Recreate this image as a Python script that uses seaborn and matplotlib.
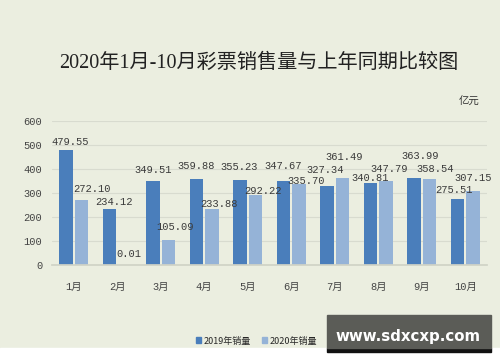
import matplotlib
matplotlib.use('Agg')
import matplotlib.pyplot as plt
import seaborn as sns
import pandas as pd
from matplotlib.patches import Rectangle

months = ['1月', '2月', '3月', '4月', '5月', '6月', '7月', '8月', '9月', '10月']
sales_2019 = [479.55, 234.12, 349.51, 359.88, 355.23, 347.67, 327.34, 340.81, 363.99, 275.51]
sales_2020 = [272.10, 0.01, 105.09, 233.88, 292.22, 335.70, 361.49, 347.79, 358.54, 307.15]
series = ['2019年销量', '2020年销量']

# hand-placed label offsets (pixels, dx / height above bar top), like the original
label_off = [
    [(4, 8), (5, 7), (0, 11), (0, 13), (-1, 13), (0, 15), (-2, 16), (0, 5), (6, 22), (-3, 9)],
    [(10, 11), (4, 11), (6, 13), (7, 5), (7, 4), (7, 3), (2, 21), (3, 12), (6, 10), (0, 13)],
]

df = pd.DataFrame({
    'month': months * 2,
    'value': sales_2019 + sales_2020,
    'series': [series[0]] * len(months) + [series[1]] * len(months),
})

bg = '#ebeee0'
sns.set_theme(style='white')
plt.rcParams['font.family'] = ['Liberation Mono', 'Noto Sans CJK SC', 'DejaVu Sans']

fig = plt.figure(figsize=(5, 3.62), dpi=100, facecolor=bg)
ax = fig.add_axes([0.104, 0.268, 0.87, 0.398])
ax.set_facecolor(bg)

sns.barplot(data=df, x='month', y='value', hue='series', order=months, hue_order=series,
            palette=['#4a7ebb', '#95b3d7'], width=0.72, gap=0.12, saturation=1,
            linewidth=0, legend=False, ax=ax)

for cont, offs in zip(ax.containers, label_off):
    for bar, (dx, dy) in zip(cont, offs):
        ax.annotate(f'{bar.get_height():.2f}', (bar.get_x() + bar.get_width() / 2, bar.get_height()),
                    xytext=(dx, dy), textcoords='offset pixels', ha='center', va='center',
                    fontsize=7.5, color='#3a3a3a')

ax.set_ylim(0, 600)
ax.set_yticks(range(0, 601, 100))
ax.yaxis.grid(True, color='#d8dbcf', linewidth=0.8)
ax.set_axisbelow(True)
for s in ['top', 'right', 'left']:
    ax.spines[s].set_visible(False)
ax.spines['bottom'].set_color('#d0d3c6')
ax.set_xlabel('')
ax.set_ylabel('')
ax.tick_params(axis='both', length=0, labelsize=7.5, colors='#444444')
ax.tick_params(axis='x', pad=12)
ax.tick_params(axis='y', pad=7)

fig.text(0.518, 0.826, '2020年1月-10月彩票销售量与上年同期比较图', ha='center', va='center',
         fontsize=14.5, color='#222222', family=['Liberation Serif', 'Noto Sans CJK SC'])
fig.text(0.938, 0.718, '亿元', ha='center', va='center', fontsize=7.5, color='#333333',
         family=['Noto Sans CJK SC'])

# legend
handles = [Rectangle((0, 0), 1, 1, color=c) for c in ['#4a7ebb', '#95b3d7']]
fig.legend(handles, series, loc='center', bbox_to_anchor=(0.513, 0.058), ncol=2, frameon=False,
           handlelength=0.6, handleheight=0.6, handletextpad=0.3, columnspacing=1.2,
           prop={'family': ['Noto Sans CJK SC', 'DejaVu Sans'], 'size': 6.5})

# white strip at bottom and watermark box
fig.patches.append(Rectangle((0, 0), 1, 14 / 362, transform=fig.transFigure, color='white', zorder=0))
fig.patches.append(Rectangle((327 / 500, 10 / 362), 164 / 500, 4 / 362, transform=fig.transFigure,
                             color='#111111', zorder=5))
fig.patches.append(Rectangle((327 / 500, 14 / 362), 164 / 500, 33 / 362, transform=fig.transFigure,
                             color='#5b5c57', zorder=5))
fig.text(408 / 500, 25 / 362, 'www.sdxcxp.com', ha='center', va='center', fontsize=10.8,
         color='white', weight='bold', family='DejaVu Sans', zorder=6)

fig.savefig('out.png', dpi=100, facecolor=bg)
